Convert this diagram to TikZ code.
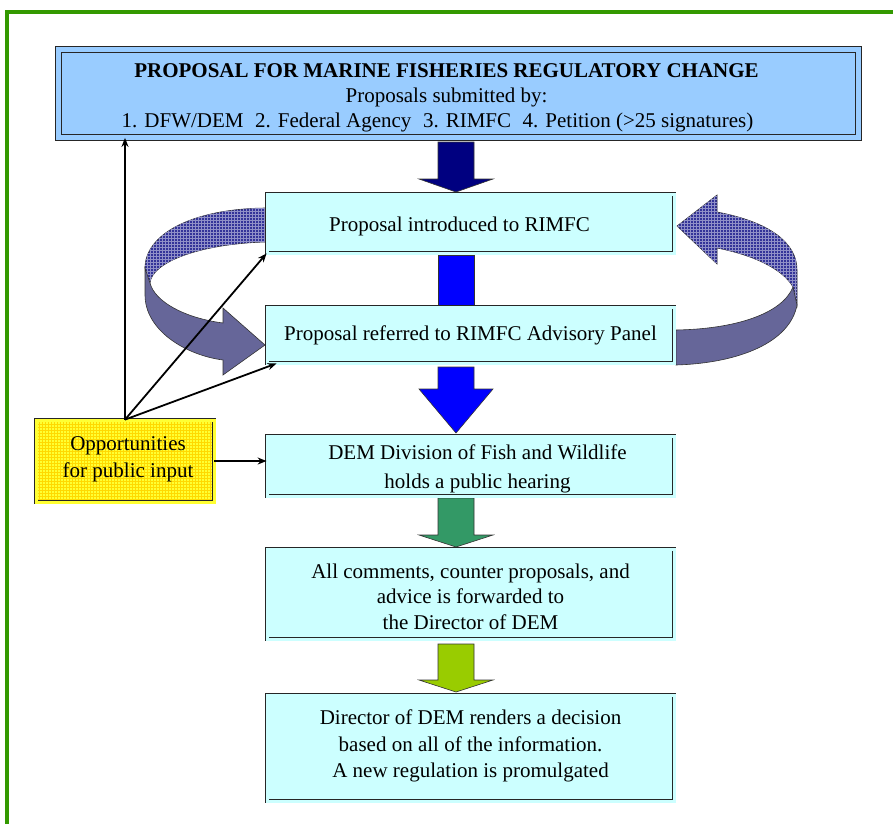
\documentclass[tikz,border=0pt]{standalone}
\usepackage{fontspec}
\setmainfont{Liberation Serif}
\usetikzlibrary{arrows.meta,patterns}
\definecolor{framegreen}{HTML}{339900}
\definecolor{headfill}{HTML}{99CCFF}
\definecolor{boxfill}{HTML}{CCFFFF}
\definecolor{notefill}{HTML}{FFFF33}
\definecolor{navyarrow}{HTML}{000080}
\definecolor{bluearrow}{HTML}{0000FF}
\definecolor{greenarrow}{HTML}{339966}
\definecolor{limearrow}{HTML}{99CC00}
\definecolor{banddark}{HTML}{333399}
\definecolor{bandlight}{HTML}{666699}

\tikzset{
  stepbox/.style={draw=black!85, line width=0.8pt, double=boxfill, double distance=3pt,
    fill=boxfill, inner sep=0pt, minimum width=407pt},
  headbox/.style={stepbox, double=headfill, fill=headfill, double distance=5pt,
    minimum width=800pt, minimum height=88pt},
  notebox/.style={stepbox, double=notefill, preaction={fill=notefill},
    pattern=grid, pattern color=yellow!70!orange, minimum width=178pt,
    minimum height=82pt},
  steptext/.style={align=center, inner sep=0pt, font=\fontsize{21}{26.5}\selectfont},
  blockarrow/.style={draw=black!80, line width=0.6pt},
  inputarrow/.style={line width=1.8pt, -{Stealth[length=9pt,width=7pt]}},
}

\begin{document}
\begin{tikzpicture}[x=1pt,y=-1pt]
\useasboundingbox (0,0) rectangle (893,823);
% outer frame
\draw[framegreen, line width=4pt] (7,826) -- (7,12) -- (896,12);

% curved arrow on the left
\draw[blockarrow, fill=banddark, postaction={pattern=grid, pattern color=banddark!55!white}]
  (265,208) .. controls (190,209) and (145,235) .. (145,268) -- (150,283)
  .. controls (152,262) and (200,244) .. (265,242) -- cycle;
\draw[blockarrow, fill=bandlight]
  (145,268) -- (145,295) .. controls (145,330) and (185,355) .. (223,360)
  -- (223,375) -- (265,345) -- (223,308) -- (223,323)
  .. controls (185,318) and (155,302) .. (150,283) -- cycle;

% curved arrow on the right
\draw[blockarrow, fill=banddark, postaction={pattern=grid, pattern color=banddark!55!white}]
  (717,212) .. controls (770,222) and (797,243) .. (797,270) -- (797,305) -- (793,287)
  .. controls (782,268) and (752,255) .. (717,248) -- (717,264) -- (677,226) -- (717,195) -- cycle;
\draw[blockarrow, fill=bandlight]
  (676,330) .. controls (735,329) and (782,314) .. (793,287) -- (797,305)
  .. controls (790,342) and (740,363) .. (676,365) -- cycle;

% block arrows between the steps
\foreach \ytop/\ybase/\ytip/\col in {142/179/192/navyarrow, 367/389/433/bluearrow,
    498/535/547/greenarrow, 644/680/692/limearrow}
  \draw[blockarrow, fill=\col] (438,\ytop) -- (474,\ytop) -- (474,\ybase) -- (493,\ybase)
    -- (456,\ytip) -- (419,\ybase) -- (438,\ybase) -- cycle;
\draw[blockarrow, fill=bluearrow] (438,255) rectangle (474,305);

% boxes
\node[headbox] (proposal) at (458.5,93.5) {};
\node[stepbox, minimum height=59pt] (intro) at (470.5,223.5) {};
\node[stepbox, minimum height=56pt] (refer) at (470.5,335) {};
\node[stepbox, minimum height=60pt] (hearing) at (470.5,466) {};
\node[stepbox, minimum height=90pt] (comments) at (470.5,594) {};
\node[stepbox, minimum height=106pt] (decision) at (470.5,748) {};
\node[notebox] (input) at (125,461) {};

% texts
\node[steptext, font=\fontsize{21}{25}\selectfont] (proposaltext) at ([shift={(-12,4)}]proposal.center)
  {\textbf{PROPOSAL FOR MARINE FISHERIES REGULATORY CHANGE}\\
  Proposals submitted by:\hspace*{18pt}\\
  1. DFW/DEM\hspace{0.3em} 2. Federal Agency\hspace{0.3em} 3. RIMFC\hspace{0.3em} 4. Petition (>25 signatures)\hspace*{18pt}};
\node[steptext] (introtext) at ([shift={(-11,3)}]intro.center) {Proposal introduced to RIMFC};
\node[steptext] (refertext) at (refer.center) {Proposal referred to RIMFC Advisory Panel};
\node[steptext, font=\fontsize{21}{28.5}\selectfont] (hearingtext) at ([shift={(7,3)}]hearing.center)
  {DEM Division of Fish and Wildlife\\ holds a public hearing};
\node[steptext, font=\fontsize{21}{25.5}\selectfont] (commentstext) at ([shift={(0,2.5)}]comments.center)
  {All comments, counter proposals, and\\ advice is forwarded to\\ the Director of DEM};
\node[steptext] (decisiontext) at ([shift={(0,-2)}]decision.center)
  {Director of DEM renders a decision\\ based on all of the information.\\ A new regulation is promulgated};
\node[steptext, font=\fontsize{21}{27}\selectfont] (inputtext) at ([shift={(3,-1.5)}]input.center)
  {Opportunities\\ for public input};

% public input connectors
\draw[inputarrow] (input.north) -- (input.north |- proposal.south);
\draw[inputarrow] (input.north) -- (intro.south west);
\draw[inputarrow] (input.north) -- ([xshift=10pt]refer.south west);
\draw[inputarrow] (input.east) -- (input.east -| hearing.west);
\end{tikzpicture}
\end{document}
